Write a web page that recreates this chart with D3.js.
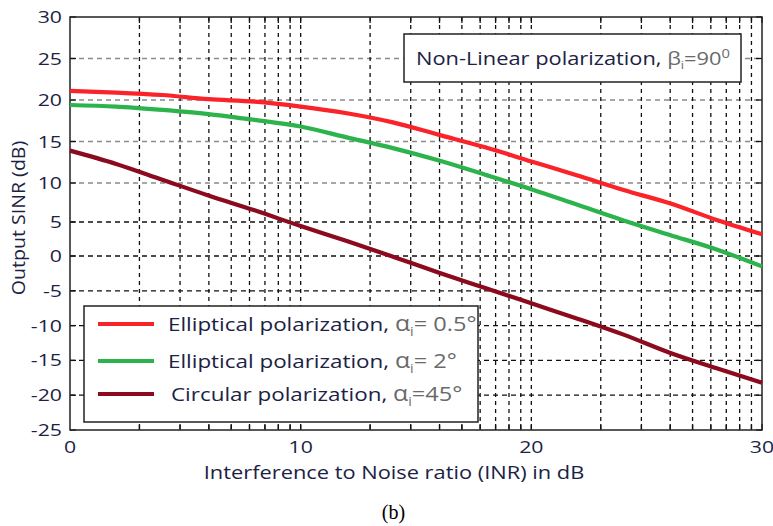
<!DOCTYPE html>
<html>
<head>
<meta charset="utf-8">
<script src="https://cdn.jsdelivr.net/npm/d3@7"></script>
<style>
  html, body { margin: 0; padding: 0; background: #fff; }
  svg { display: block; }
  text { font-family: "Open Sans", "DejaVu Sans", sans-serif; }
</style>
</head>
<body>
<svg id="chart" width="773" height="526"></svg>
<script>
// ---- data ----
const inr = [0, 2, 4, 6, 8, 10, 12, 14, 16, 18, 20, 22, 24, 26, 28, 30];
const ellipticalHalf = [21.1, 20.9, 20.6, 20.1, 19.8, 19.2, 18.4, 17.3, 15.8, 14.3, 12.6, 10.9, 9.1, 7.4, 5.3, 3.2];
const ellipticalTwo = [19.4, 19.2, 18.8, 18.3, 17.6, 16.8, 15.5, 14.2, 12.7, 11.0, 9.2, 7.2, 5.2, 3.1, 1.0, -1.5];
const circular45 = [13.9, 12.3, 10.4, 8.4, 6.5, 4.4, 2.2, -0.1, -2.4, -4.6, -6.8, -9.0, -11.3, -13.9, -16.1, -18.2];
const xTickLabels = [0, 10, 20, 30];
const yTickLabels = [-25, -20, -15, -10, -5, 0, 5, 10, 15, 20, 25, 30];
const seriesNames = ["Elliptical polarization, ", "Elliptical polarization, ", "Circular polarization, "];
const seriesAlpha = ["= 0.5°", "= 2°", "=45°"];
const seriesColors = ["#fa2329", "#2cb34b", "#8b0a1e"];

// minor grid positions (log-spaced within each 10 dB span)
const xGrid = [];
[0, 10, 20].forEach(d => { for (let k = 2; k <= 10; k++) xGrid.push(d + 10 * Math.log10(k)); });

const svg = d3.select("#chart");
const L = 70, R = 762, T = 17, B = 430;
const x = d3.scaleLinear().domain([0, 30]).range([L, R]);
// reference image is vertically non-uniform; piecewise scale follows it
const y = d3.scaleLinear().domain([-25, 0, 5, 10, 30]).range([B, 256, 222, 183, T]);

const textCol = "#1b2244";
const SX = 1.18; // horizontal stretch of the reference lettering

function stretched(parent, tx, ty, size, anchor, sx) {
  return parent.append("g").attr("transform", `translate(${tx},${ty}) scale(${sx},1)`)
    .append("text").attr("x", 0).attr("y", 0).attr("font-size", size)
    .attr("text-anchor", anchor).attr("fill", textCol);
}

// horizontal grid
svg.append("g").selectAll("line").data(yTickLabels.filter(v => v > -25 && v < 30)).join("line")
  .attr("x1", L).attr("x2", R).attr("y1", d => y(d)).attr("y2", d => y(d))
  .attr("stroke", d => d >= 10 ? "#8a8a8a" : "#111")
  .attr("stroke-width", 1.3).attr("stroke-dasharray", "5,4");

// vertical grid
svg.append("g").selectAll("line").data(xGrid.filter(v => v < 29.99)).join("line")
  .attr("x1", d => x(d)).attr("x2", d => x(d)).attr("y1", T).attr("y2", B)
  .attr("stroke", "#111").attr("stroke-width", 1.3).attr("stroke-dasharray", "4,4");

// ticks
const tk = svg.append("g").attr("stroke", "#111").attr("stroke-width", 1.3);
xGrid.forEach(v => {
  tk.append("line").attr("x1", x(v)).attr("x2", x(v)).attr("y1", B).attr("y2", B - 6);
  tk.append("line").attr("x1", x(v)).attr("x2", x(v)).attr("y1", T).attr("y2", T + 6);
});
yTickLabels.forEach(v => {
  tk.append("line").attr("x1", L).attr("x2", L + 6).attr("y1", y(v)).attr("y2", y(v));
  tk.append("line").attr("x1", R).attr("x2", R - 6).attr("y1", y(v)).attr("y2", y(v));
});

// frame
svg.append("rect").attr("x", L).attr("y", T).attr("width", R - L).attr("height", B - T)
  .attr("fill", "none").attr("stroke", "#222").attr("stroke-width", 1.5);

// curves
const line = d3.line().x(d => x(d[0])).y(d => y(d[1])).curve(d3.curveMonotoneX);
[ellipticalHalf, ellipticalTwo, circular45].forEach((s, i) => {
  svg.append("path").datum(inr.map((v, j) => [v, s[j]]))
    .attr("d", line).attr("fill", "none")
    .attr("stroke", seriesColors[i]).attr("stroke-width", 4.2).attr("stroke-linejoin", "round");
});

// tick labels
yTickLabels.forEach(v => stretched(svg, 62, y(v) + 6, 17, "end", 1.25).text(v));
xTickLabels.forEach(v => stretched(svg, x(v), 453, 17, "middle", 1.25).text(v));

// axis titles
stretched(svg, 394, 479, 18.5, "middle", SX).text("Interference to Noise ratio (INR) in dB");
svg.append("g").attr("transform", "translate(25,218) rotate(-90) scale(1.12,1)")
  .append("text").attr("text-anchor", "middle").attr("font-size", 17.5).attr("fill", textCol)
  .text("Output SINR (dB)");

// caption
svg.append("text").attr("x", 393.5).attr("y", 519).attr("text-anchor", "middle")
  .style("font-family", "'Liberation Serif', 'DejaVu Serif', serif").attr("font-size", 20)
  .attr("fill", "#000").text("(b)");

// annotation box
svg.append("rect").attr("x", 404).attr("y", 34).attr("width", 337).attr("height", 48)
  .attr("fill", "#fff").attr("stroke", "#222").attr("stroke-width", 1.5);
const at = stretched(svg, 416, 65, 18.5, "start", SX);
at.append("tspan").text("Non-Linear polarization, ");
at.append("tspan").attr("fill", "#6a6a6a").text("β");
at.append("tspan").attr("fill", "#6a6a6a").attr("font-size", 11).attr("dy", 4).text("i");
at.append("tspan").attr("fill", "#6a6a6a").attr("dy", -4).text("=90");
at.append("tspan").attr("fill", "#6a6a6a").attr("font-size", 12.5).attr("dy", -7).text("0");

// legend
svg.append("rect").attr("x", 84).attr("y", 306).attr("width", 394).attr("height", 116)
  .attr("fill", "#fff").attr("stroke", "#222").attr("stroke-width", 1.5);
const rowsY = [324, 361, 394];
seriesNames.forEach((nm, i) => {
  svg.append("line").attr("x1", 98).attr("x2", 154).attr("y1", rowsY[i]).attr("y2", rowsY[i])
    .attr("stroke", seriesColors[i]).attr("stroke-width", 4.2);
  const t = stretched(svg, i === 2 ? 171 : 168, rowsY[i] + 7, 19, "start", SX);
  t.append("tspan").text(nm);
  t.append("tspan").attr("fill", "#6a6a6a").attr("font-size", 21).text("α");
  t.append("tspan").attr("fill", "#6a6a6a").attr("font-size", 12).attr("dy", 5).text("i");
  t.append("tspan").attr("fill", "#6a6a6a").attr("font-size", 20).attr("dy", -5).text(seriesAlpha[i]);
});
</script>
</body>
</html>
